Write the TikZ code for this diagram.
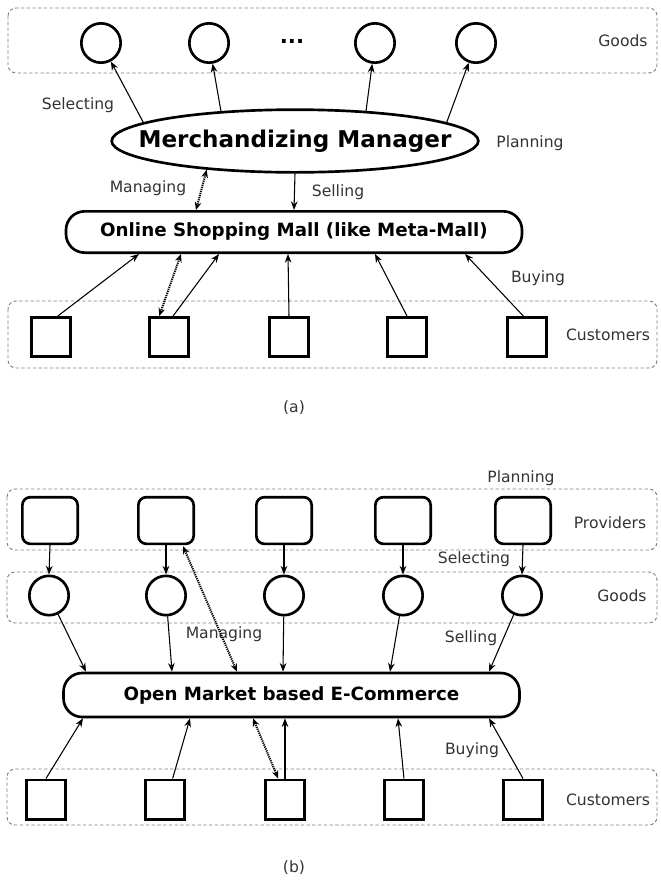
\documentclass[tikz,border=0pt]{standalone}
\usepackage{fontspec}
\setmainfont{DejaVu Sans}
\usetikzlibrary{shapes.geometric,arrows.meta,calc}
\begin{document}
\begin{tikzpicture}[x=0.75pt,y=-0.75pt,
  gbox/.style={draw=black!50,line width=0.7pt,dash pattern=on 2.5pt off 1.8pt,rounded corners=6pt},
  good/.style={circle,draw,line width=2pt,minimum size=29.5pt,inner sep=0pt},
  cust/.style={rectangle,draw,line width=2pt,minimum size=29.5pt,inner sep=0pt},
  prov/.style={rectangle,draw,line width=2pt,rounded corners=6pt,minimum width=41.5pt,minimum height=35pt,inner sep=0pt},
  mgr/.style={ellipse,draw,line width=2pt,minimum width=275pt,minimum height=47pt,inner sep=0pt},
  mgrtext/.style={inner sep=0pt,font=\bfseries\fontsize{17.3}{20}\selectfont},
  mall/.style={rectangle,draw,line width=2pt,rounded corners=14pt,minimum width=342pt,inner sep=0pt,font=\bfseries\fontsize{13.7}{16}\selectfont},
  lbl/.style={font=\fontsize{11.7}{14}\selectfont,text=black!80,inner sep=0pt},
  arr/.style={-{Stealth[length=6.5pt,width=5pt]},line width=0.8pt},
  darr/.style={{Stealth[length=6pt,width=5pt]}-{Stealth[length=6pt,width=5pt]},line width=1.5pt,dash pattern=on 0.9pt off 0.7pt}
]
\useasboundingbox (0,0) rectangle (661,883);

% ---------------- (a) ----------------
\draw[gbox] (8,8) rectangle (657,73);
\node[good] (ga1) at (101,43) {};
\node[good] (ga2) at (209,43) {};
\node[good] (ga3) at (375,43) {};
\node[good] (ga4) at (476,43) {};
\node[font=\bfseries\fontsize{16}{16}\selectfont,inner sep=0pt] (dots) at (292,41) {...};
\node[lbl] (goodsA) at (623,41) {Goods};

\node[mgr] (mm) at (295,141) {};
\node[mgrtext] (mmt) at (295,141) {Merchandizing Manager};
\node[lbl] (selA) at (78,105) {Selecting};
\node[lbl] (planA) at (530,143) {Planning};
\draw[arr] (mm.173) -- (ga1);
\draw[arr] (mm.158) -- (ga2);
\draw[arr] (mm.23) -- (ga3);
\draw[arr] (mm.7) -- (ga4);

\node[mall,minimum height=31pt] (osm) at (294,232) {Online Shopping Mall (like Meta-Mall)};
\node[lbl] (manA) at (148,188) {Managing};
\node[lbl] (sellA) at (338,192) {Selling};
\draw[darr] (mm.198) -- ($(osm.north)+(-98,0)$);
\draw[arr] (mm.south) -- (osm.north);

\draw[gbox] (8,301) rectangle (657,368);
\node[cust] (ca1) at (51,337) {};
\node[cust] (ca2) at (169,337) {};
\node[cust] (ca3) at (289,337) {};
\node[cust] (ca4) at (407,337) {};
\node[cust] (ca5) at (527,337) {};
\node[lbl] (custA) at (608,335) {Customers};
\node[lbl] (buyA) at (538,278) {Buying};
\draw[arr] (ca1.72) -- ($(osm.south)+(-155,0)$);
\draw[arr] (ca2.79) -- ($(osm.south)+(-75,0)$);
\draw[arr] (ca3.north) -- ($(osm.south)+(-6,0)$);
\draw[arr] (ca4.north) -- ($(osm.south)+(81,0)$);
\draw[arr] (ca5.100) -- ($(osm.south)+(171,0)$);
\draw[darr] ($(osm.south)+(-113,0)$) -- (ca2.115);
\node[lbl] (capA) at (294,408) {(a)};

% ---------------- (b) ----------------
\node[lbl] (planB) at (521,478) {Planning};
\draw[gbox] (7,489) rectangle (657,550);
\node[prov] (pb1) at (50,520.5) {};
\node[prov] (pb2) at (166,520.5) {};
\node[prov] (pb3) at (284,520.5) {};
\node[prov] (pb4) at (403,520.5) {};
\node[prov] (pb5) at (523,520.5) {};
\node[lbl] (provB) at (610,523) {Providers};

\draw[gbox] (7,572) rectangle (657,623);
\node[good] (gb1) at (49,595.5) {};
\node[good] (gb2) at (166,595.5) {};
\node[good] (gb3) at (284,595.5) {};
\node[good] (gb4) at (403,595.5) {};
\node[good] (gb5) at (522,595.5) {};
\node[lbl] (goodsB) at (622,596) {Goods};
\node[lbl] (selB) at (474,559) {Selecting};
\draw[arr] (pb1.south) -- (gb1.north);
\draw[arr] (pb2.south) -- (gb2.north);
\draw[arr] (pb3.south) -- (gb3.north);
\draw[arr] (pb4.south) -- (gb4.north);
\draw[arr] (pb5.south) -- (gb5.north);

\node[mall,minimum height=33pt] (om) at (291.5,695) {Open Market based E-Commerce};
\node[lbl] (sellB) at (471,638) {Selling};
\node[lbl] (manB) at (224,634) {Managing};
\draw[arr] (gb1) -- ($(om.north)+(-205.5,0)$);
\draw[arr] (gb2) -- ($(om.north)+(-119.5,0)$);
\draw[arr] (gb3) -- ($(om.north)+(-8.5,0)$);
\draw[arr] (gb4) -- ($(om.north)+(98.5,0)$);
\draw[arr] (gb5) -- ($(om.north)+(197.5,0)$);
\draw[darr] ($(pb2.south)+(17,1)$) -- ($(om.north)+(-54.5,0)$);

\draw[gbox] (7,769) rectangle (657,825);
\node[cust] (cb1) at (46,799.5) {};
\node[cust] (cb2) at (165,799.5) {};
\node[cust] (cb3) at (285,799.5) {};
\node[cust] (cb4) at (404,799.5) {};
\node[cust] (cb5) at (523,799.5) {};
\node[lbl] (custB) at (608,800) {Customers};
\node[lbl] (buyB) at (472,750) {Buying};
\draw[arr] (cb1.north) -- ($(om.south)+(-208.5,0)$);
\draw[arr] (cb2.70) -- ($(om.south)+(-101.5,0)$);
\draw[arr] (cb3.north) -- ($(om.south)+(-6.5,0)$);
\draw[arr] (cb4.north) -- ($(om.south)+(106.5,0)$);
\draw[arr] (cb5.north) -- ($(om.south)+(197.5,0)$);
\draw[darr] ($(om.south)+(-38.5,0)$) -- (cb3.108);
\node[lbl] (capB) at (294,868) {(b)};
\end{tikzpicture}
\end{document}
